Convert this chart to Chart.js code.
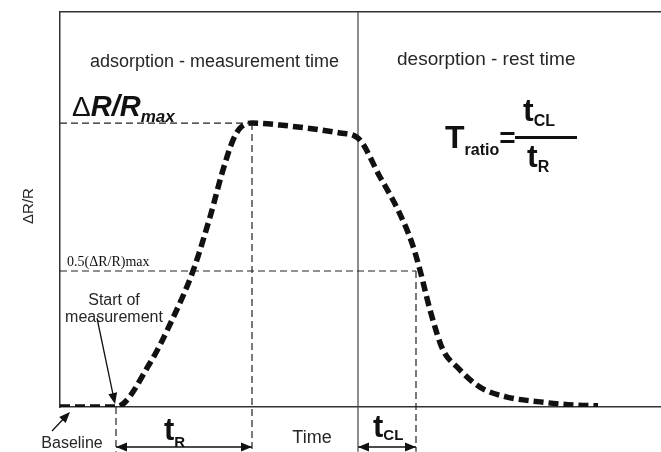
<!DOCTYPE html>
<html>
<head>
<meta charset="utf-8">
<script src="https://cdn.jsdelivr.net/npm/chart.js@4"></script>
<style>
    body { margin: 0; background: #fff; }
    canvas { display: block; }
</style>
</head>
<body>
<canvas id="sensor-chart" width="661" height="452"></canvas>
<script>
// response curve (time in arbitrary units, signal relative to max)
const curveTime = [0, 5.6, 9.0, 11.2, 13.3, 15.0, 16.3, 17.3, 18.0, 19.2, 22.0, 28.0, 29.8,
    32.0, 33.8, 35.2, 36.0, 37.0, 38.3, 39.7, 42.0, 44.7, 48.0, 51.3, 53.8];
const curveSignal = [0, 0, 0.155, 0.306, 0.479, 0.669, 0.835, 0.940, 0.982, 1.0, 0.993, 0.965, 0.947,
    0.810, 0.694, 0.577, 0.482, 0.342, 0.201, 0.141, 0.070, 0.035, 0.018, 0.007, 0.004];

// marker times and levels
const tStart = 5.6;
const tPeak = 19.2;
const tDesorb = 29.8;
const tHalfDesorb = 35.6;
const maxLevel = 1.0;
const halfLevel = 0.479;

// axis ranges
const timeMax = 60.1;
const signalMax = 1.391;
const belowAxis = -0.158;
const arrowLevel = -0.141;

const sans = '"Liberation Sans", Arial, sans-serif';
const textColor = '#262626';

const pt = (xs, ys) => xs.map((v, i) => ({ x: v, y: ys[i] }));

const guide = (xs, ys) => ({
    data: pt(xs, ys),
    borderColor: '#222',
    borderWidth: 1.2,
    borderDash: [7, 4],
    pointRadius: 0,
    clip: false
});

const span = (x1, x2) => ({
    data: pt([x1, x2], [arrowLevel, arrowLevel]),
    borderColor: '#111',
    borderWidth: 1.5,
    pointRadius: 0,
    clip: false
});

function head(ctx, x, y, a) {
    ctx.beginPath();
    ctx.moveTo(x, y);
    ctx.lineTo(x - Math.cos(a) * 11 + Math.sin(a) * 4.5, y - Math.sin(a) * 11 - Math.cos(a) * 4.5);
    ctx.lineTo(x - Math.cos(a) * 11 - Math.sin(a) * 4.5, y - Math.sin(a) * 11 + Math.cos(a) * 4.5);
    ctx.closePath();
    ctx.fill();
}

function drawArrow(ctx, x1, y1, x2, y2) {
    const a = Math.atan2(y2 - y1, x2 - x1);
    ctx.beginPath();
    ctx.moveTo(x1, y1);
    ctx.lineTo(x2 - Math.cos(a) * 8, y2 - Math.sin(a) * 8);
    ctx.stroke();
    head(ctx, x2, y2, a);
}

// text with a subscript after it, returns end x
function subText(ctx, main, sub, x, y, mainFont, subFont, drop) {
    ctx.font = mainFont;
    ctx.fillText(main, x, y);
    const w = ctx.measureText(main).width;
    ctx.font = subFont;
    ctx.fillText(sub, x + w, y + drop);
    return x + w + ctx.measureText(sub).width;
}

const labelsPlugin = {
    id: 'labels',
    afterDraw(chart) {
        const ctx = chart.ctx;
        const xs = chart.scales.x;
        const ys = chart.scales.y;
        ctx.save();
        ctx.fillStyle = textColor;
        ctx.strokeStyle = '#111';
        ctx.lineWidth = 1.3;
        ctx.textBaseline = 'alphabetic';

        // region titles
        ctx.font = '18px ' + sans;
        ctx.fillText('adsorption - measurement time', 90, 67);
        ctx.font = '19px ' + sans;
        ctx.fillText('desorption - rest time', 397, 65);

        // ΔR/Rmax
        ctx.fillStyle = '#111';
        ctx.font = '28px ' + sans;
        ctx.fillText('Δ', 72, 116);
        let cx = 72 + ctx.measureText('Δ').width;
        subText(ctx, 'R/R', 'max', cx, 116, 'italic bold 29px ' + sans, 'italic bold 17px ' + sans, 6);

        // y title
        ctx.save();
        ctx.fillStyle = textColor;
        ctx.translate(29, 206);
        ctx.rotate(-Math.PI / 2);
        ctx.textAlign = 'center';
        ctx.textBaseline = 'middle';
        ctx.font = '15px ' + sans;
        ctx.fillText('ΔR/R', 0, 0);
        ctx.restore();

        // half level label
        ctx.font = '14px "Liberation Serif", "Times New Roman", serif';
        ctx.fillText('0.5(ΔR/R)max', 67, 266);

        // start of measurement
        ctx.fillStyle = textColor;
        ctx.font = '16px ' + sans;
        ctx.textAlign = 'center';
        ctx.fillText('Start of', 114, 305);
        ctx.fillText('measurement', 114, 322);
        ctx.fillText('Baseline', 72, 448);
        ctx.font = '18px ' + sans;
        ctx.fillText('Time', 312, 443);
        ctx.textAlign = 'left';

        ctx.fillStyle = '#111';
        const sx = xs.getPixelForValue(tStart);
        const sy = ys.getPixelForValue(0);
        drawArrow(ctx, 97, 318, sx - 1, sy - 3);
        drawArrow(ctx, 52, 431, 70, 412);

        // heads of the tR and tCL spans
        const ay = ys.getPixelForValue(arrowLevel);
        head(ctx, xs.getPixelForValue(tStart), ay, Math.PI);
        head(ctx, xs.getPixelForValue(tPeak), ay, 0);
        head(ctx, xs.getPixelForValue(tDesorb), ay, Math.PI);
        head(ctx, xs.getPixelForValue(tHalfDesorb), ay, 0);

        // tR and tCL
        subText(ctx, 't', 'R', 164, 440, 'bold 31px ' + sans, 'bold 15px ' + sans, 7);
        subText(ctx, 't', 'CL', 373, 437, 'bold 31px ' + sans, 'bold 15px ' + sans, 3);

        // T ratio formula
        const end = subText(ctx, 'T', 'ratio', 445, 148, 'bold 32px ' + sans, 'bold 16px ' + sans, 7);
        ctx.font = 'bold 28px ' + sans;
        ctx.fillText('=', end, 147);
        ctx.fillRect(515, 136, 62, 3);
        subText(ctx, 't', 'CL', 523, 121, 'bold 32px ' + sans, 'bold 16px ' + sans, 5);
        subText(ctx, 't', 'R', 527, 167, 'bold 32px ' + sans, 'bold 16px ' + sans, 5);

        ctx.restore();
    }
};

const frameScale = {
    grid: { display: false, drawTicks: false, tickLength: 0 },
    ticks: { display: false, padding: 0 },
    border: { color: '#333', width: 1.5 }
};

new Chart(document.getElementById('sensor-chart'), {
    type: 'scatter',
    data: {
        datasets: [
            {
                data: pt(curveTime, curveSignal),
                borderColor: '#111',
                borderWidth: 5.5,
                borderDash: [10, 5],
                cubicInterpolationMode: 'monotone',
                pointRadius: 0
            },
            guide([0, tPeak], [maxLevel, maxLevel]),
            guide([0, tHalfDesorb], [halfLevel, halfLevel]),
            guide([tPeak, tPeak], [maxLevel, belowAxis]),
            guide([tStart, tStart], [0, belowAxis]),
            guide([tHalfDesorb, tHalfDesorb], [halfLevel, belowAxis]),
            {
                data: pt([tDesorb, tDesorb], [signalMax, belowAxis]),
                borderColor: '#444',
                borderWidth: 1.2,
                pointRadius: 0,
                clip: false
            },
            span(tStart, tPeak),
            span(tDesorb, tHalfDesorb)
        ].map(d => ({ showLine: true, ...d }))
    },
    options: {
        responsive: false,
        animation: false,
        layout: { padding: { left: 60, top: 12, right: 0, bottom: 45 } },
        plugins: {
            legend: { display: false },
            tooltip: { enabled: false }
        },
        scales: {
            x: { type: 'linear', min: 0, max: timeMax, ...frameScale },
            x2: { type: 'linear', position: 'top', min: 0, max: timeMax, ...frameScale },
            y: { min: 0, max: signalMax, ...frameScale }
        }
    },
    plugins: [labelsPlugin]
});
</script>
</body>
</html>
